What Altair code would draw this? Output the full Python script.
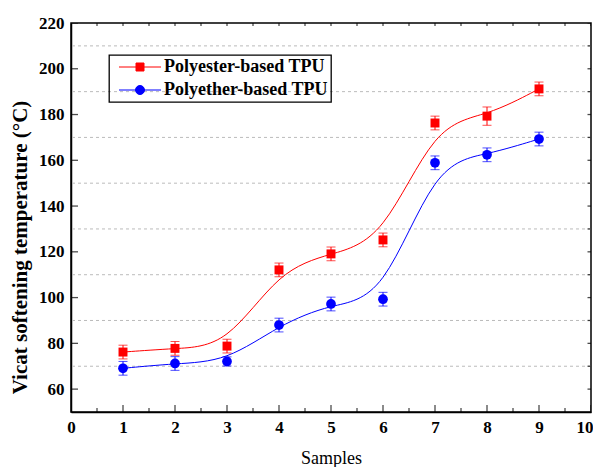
import altair as alt
import pandas as pd

samples = [1, 2, 3, 4, 5, 6, 7, 8, 9]
polyester = [76.2, 77.8, 78.8, 112.1, 119.1, 125.2, 176.3, 179.3, 191.2]
polyether = [69.1, 71.2, 72.1, 88.0, 97.2, 99.3, 158.9, 162.4, 169.3]
polyester_err = [3, 3, 3, 3, 3, 3, 3, 4, 3]
polyether_err = [3, 3, 2, 3, 3, 3, 3, 3, 3]
series_names = ["Polyester-based TPU", "Polyether-based TPU"]
series_colors = ["#ff0000", "#0000ff"]
x_major = list(range(0, 11))
x_minor = [v + 0.5 for v in range(0, 10)]
y_major = list(range(60, 221, 20))
y_all = list(range(60, 221, 10))
grid_values = list(range(70, 211, 20))

FONT = "Liberation Serif"

rows = []
for name, col, vals, errs in [(series_names[0], series_colors[0], polyester, polyester_err),
                              (series_names[1], series_colors[1], polyether, polyether_err)]:
    for s, v, e in zip(samples, vals, errs):
        rows.append({"x": s, "y": v, "lo": v - e, "hi": v + e, "series": name, "col": col})
df = pd.DataFrame(rows)

xs = alt.Scale(domain=[0, 10], nice=False, zero=False)
ys = alt.Scale(domain=[50, 220], nice=False, zero=False)
cs = alt.Scale(domain=series_names, range=series_colors)

x_axis = alt.Axis(values=x_major, ticks=False, grid=False, labelPadding=7, labelFlush=False,
                  labelAlign={"condition": {"test": "datum.value == 10", "value": "right"},
                              "value": "center"},
                  labelOffset={"condition": {"test": "datum.value == 10", "value": 2},
                               "value": 0},
                  title="Samples", titleX=260, titleY=51, titleBaseline="alphabetic",
                  titleFont=FONT, titleFontSize=18, titleFontWeight="normal")
y_axis = alt.Axis(values=y_major, ticks=False, grid=False, labelPadding=7, labelFlush=False,
                  title="Vicat softening temperature (\u00b0C)", titleX=-51, titleY=224,
                  titleAngle=270, titleAlign="center", titleBaseline="middle",
                  titleFont=FONT, titleFontSize=21, titleFontWeight="bold")

X = alt.X("x:Q", scale=xs, axis=x_axis)
Y = alt.Y("y:Q", scale=ys, axis=y_axis)
C = alt.Color("col:N", scale=None)

lines = alt.Chart(df).mark_line(interpolate="basis", strokeWidth=1).encode(
    x=X, y=Y, color=C, detail="series:N")

grid = alt.Chart(pd.DataFrame({"g": grid_values})).mark_rule(
    color="#bbbbbb", strokeDash=[3, 3], strokeWidth=1
).encode(y=alt.Y("g:Q", scale=ys, axis=y_axis))

err_rules = alt.Chart(df).mark_rule(strokeWidth=1).encode(
    x=X, y=alt.Y("lo:Q", scale=ys, axis=y_axis), y2="hi:Q", color=C)
caps_lo = alt.Chart(df).mark_tick(orient="horizontal", size=9, thickness=1).encode(
    x=X, y=alt.Y("lo:Q", scale=ys, axis=y_axis), color=C)
caps_hi = alt.Chart(df).mark_tick(orient="horizontal", size=9, thickness=1).encode(
    x=X, y=alt.Y("hi:Q", scale=ys, axis=y_axis), color=C)

pts_sq = alt.Chart(df).transform_filter(
    alt.datum.series == series_names[0]
).mark_point(shape="square", filled=True, size=80, opacity=1).encode(x=X, y=Y, color=C)
pts_ci = alt.Chart(df).transform_filter(
    alt.datum.series == series_names[1]
).mark_point(shape="circle", filled=True, size=95, opacity=1).encode(x=X, y=Y, color=C)

# inward axis ticks, clipped to the plot area
def vticks(vals, yval, length):
    d = pd.DataFrame({"t": vals, "pos": [yval] * len(vals)})
    return alt.Chart(d).mark_tick(
        orient="vertical", size=2 * length, thickness=1.3, color="black", clip=True
    ).encode(x=alt.X("t:Q", scale=xs, axis=x_axis), y=alt.Y("pos:Q", scale=ys, axis=y_axis))

def hticks(vals, xval, length):
    d = pd.DataFrame({"t": vals, "pos": [xval] * len(vals)})
    return alt.Chart(d).mark_tick(
        orient="horizontal", size=2 * length, thickness=1.3, color="black", clip=True
    ).encode(y=alt.Y("t:Q", scale=ys, axis=y_axis), x=alt.X("pos:Q", scale=xs, axis=x_axis))

ticks = [
    vticks(x_major, 50, 7), vticks(x_minor, 50, 4),
    vticks(x_major + x_minor, 220, 3),
    hticks(y_major, 0, 7),
    hticks(y_all, 10, 3.5),
]

# legend carrier: symbol = line through marker
k = 0.5523
r = 0.9
ci_path = ("M-4.2,0H4.2M{a},0C{a},{mb} {mb},{a} 0,{a}C{b2},{a} {b},{mb} {b},0"
           "C{b},{b2} {b2},{b} 0,{b}C{mb},{b} {a},{b2} {a},0Z").format(
    a=-r, b=r, mb=-r * k, b2=r * k)
sq_path = "M-4.2,0H4.2M-0.8,-0.8H0.8V0.8H-0.8Z"
leg = alt.Legend(orient="none", legendX=38, legendY=32, strokeColor="black",
                 padding=3, symbolOffset=19, labelOffset=15, rowPadding=5,
                 symbolSize=100, symbolStrokeWidth=1, symbolOpacity=1, labelFont=FONT,
                 labelFontSize=18, labelFontWeight="bold", labelColor="black",
                 labelLimit=400)
legend_layer = alt.Chart(pd.DataFrame({"series": series_names})).mark_point(
    filled=True, size=100, opacity=1, strokeWidth=1, clip=True
).encode(
    x=alt.value(-300), y=alt.value(-300),
    color=alt.Color("series:N", scale=cs, legend=leg, title=None),
    stroke=alt.Stroke("series:N", scale=cs, legend=leg, title=None),
    shape=alt.Shape("series:N", scale=alt.Scale(domain=series_names, range=[sq_path, ci_path]),
                    legend=leg, title=None),
)

chart = alt.layer(grid, lines, err_rules, caps_lo, caps_hi, pts_sq, pts_ci, *ticks, legend_layer).properties(
    width=520, height=389,
    autosize=alt.AutoSizeParams(type="none"),
    padding={"left": 63, "top": 15, "right": 2, "bottom": 55},
).configure_view(
    stroke="black", strokeWidth=1.5
).configure_axis(
    labelFont=FONT, labelFontSize=17, labelFontWeight="bold", labelColor="black",
    domainColor="black", domainWidth=1.5, titleColor="black"
).configure_legend(
    strokeWidth=1.3, symbolOpacity=1
)

chart.save("out.html", embed_options={"renderer": "svg", "actions": False})
